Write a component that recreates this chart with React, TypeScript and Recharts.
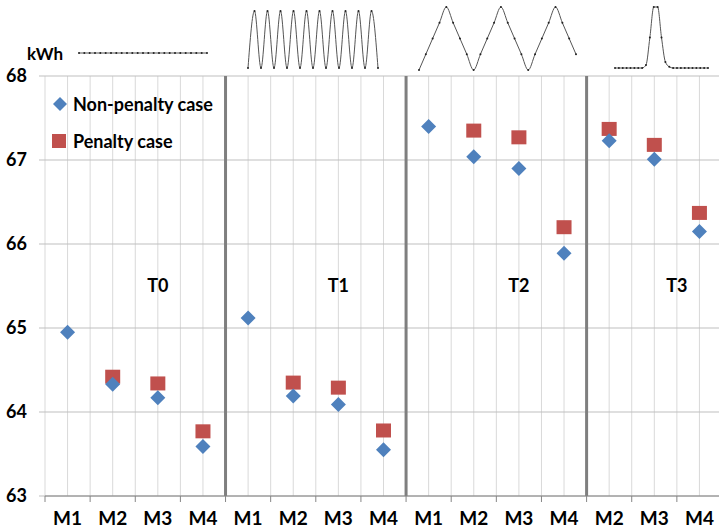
import {
  ScatterChart,
  Scatter,
  LineChart,
  Line,
  XAxis,
  YAxis,
  CartesianGrid,
  ReferenceLine,
  ReferenceDot,
} from 'recharts'

const categories = ['M1', 'M2', 'M3', 'M4', 'M1', 'M2', 'M3', 'M4', 'M1', 'M2', 'M3', 'M4', 'M2', 'M3', 'M4']
const nonPenalty = [64.95, 64.33, 64.17, 63.59, 65.12, 64.19, 64.09, 63.55, 67.4, 67.04, 66.9, 65.89, 67.23, 67.01, 66.15]
const penalty = [null, 64.42, 64.34, 63.77, null, 64.35, 64.29, 63.78, null, 67.35, 67.27, 66.2, 67.37, 67.18, 66.37]
const yTicks = [63, 64, 65, 66, 67, 68]

const sections = ['T0', 'T1', 'T2', 'T3']
const sectionLabelAt = [2.5, 6.5, 10.5, 14]
const separators = [4, 8, 12]

// small load-profile sketches above each block
const flatProfile = [1, 1, 1, 1, 1, 1, 1, 1, 1, 1, 1, 1, 1, 1, 1, 1, 1, 1, 1, 1, 1, 1, 1, 1, 1]
const sineProfile = [0, 1, 0, 1, 0, 1, 0, 1, 0, 1, 0, 1, 0, 1, 0, 1, 0, 1, 0, 1, 0]
const triangleProfile = [0, 0.25, 0.5, 0.75, 1, 0.75, 0.5, 0.25, 0, 0.25, 0.5, 0.75, 1, 0.75, 0.5, 0.25, 0, 0.25, 0.5, 0.75, 1, 0.75, 0.5, 0.25]
const peakProfile = [0, 0, 0, 0, 0, 0, 0, 0, 0.05, 0.5, 1, 1, 0.5, 0.1, 0.02, 0, 0, 0, 0, 0, 0, 0, 0, 0, 0]

const BLUE = '#4F81BD'
const RED = '#C0504D'

const nonPenaltyRows = nonPenalty.map((v, i) => ({ x: i + 0.5, y: v }))
const penaltyRows = penalty
  .map((v, i) => ({ x: i + 0.5, y: v }))
  .filter((r) => r.y !== null)

// ticks every half band: integers carry a tick mark, halves carry the label
const xTicks = categories
  .flatMap((_, i) => [i, i + 0.5])
  .concat([categories.length])

const Diamond = (props: any) => {
  const { cx, cy } = props
  const h = 7.5
  return <polygon points={`${cx},${cy - h} ${cx + h},${cy} ${cx},${cy + h} ${cx - h},${cy}`} fill={BLUE} />
}

const Square = (props: any) => {
  const { cx, cy } = props
  return <rect x={cx - 7.5} y={cy - 7} width={15} height={14} fill={RED} />
}

const XTick = (props: any) => {
  const { x, y, payload } = props
  const v = payload.value
  if (Number.isInteger(v)) {
    return <line x1={x} x2={x} y1={y} y2={y + 6} stroke="#868686" />
  }
  return (
    <text x={x} y={y + 16} dy="0.71em" textAnchor="middle" fill="#000" fontSize={19} fontWeight={700}>
      {categories[Math.floor(v)]}
    </text>
  )
}

function Profile({ values, left, top, width, height }: { values: number[]; left: number; top: number; width: number; height: number }) {
  const rows = values.map((v, i) => ({ i, v }))
  return (
    <div style={{ position: 'absolute', left: left - 2, top: top - 2 }}>
      <LineChart width={width + 4} height={height + 4} data={rows} margin={{ top: 2, right: 2, bottom: 2, left: 2 }}>
        <XAxis dataKey="i" type="number" domain={['dataMin', 'dataMax']} hide />
        <YAxis domain={[0, 1]} hide />
        <Line
          type="monotone"
          dataKey="v"
          stroke="#555"
          strokeWidth={1}
          dot={{ r: 1, fill: '#222', stroke: 'none' }}
          isAnimationActive={false}
        />
      </LineChart>
    </div>
  )
}

export default function App() {
  return (
    <div
      style={{
        position: 'absolute',
        left: 0,
        top: 0,
        width: 719,
        height: 529,
        overflow: 'hidden',
        background: '#fff',
        fontFamily: 'Lato, sans-serif',
      }}
    >
      <ScatterChart width={722} height={529} margin={{ top: 76, right: 0, bottom: 0, left: 0 }}>
        <CartesianGrid horizontal={false} stroke="#D9D9D9" />
        <CartesianGrid vertical={false} stroke="#BFBFBF" />
        <XAxis
          type="number"
          dataKey="x"
          domain={[0, 15]}
          ticks={xTicks}
          interval={0}
          tick={<XTick />}
          tickLine={false}
          tickSize={0}
          tickMargin={0}
          height={33}
          axisLine={{ stroke: '#868686' }}
        />
        <YAxis
          type="number"
          dataKey="y"
          domain={[63, 68]}
          ticks={yTicks}
          width={45}
          axisLine={false}
          tickLine={{ stroke: '#BFBFBF' }}
          tickSize={6}
          tickMargin={12}
          tick={{ fill: '#000', fontSize: 18, fontWeight: 700 }}
        />
        {separators.map((s) => (
          <ReferenceLine key={s} x={s} stroke="#7F7F7F" strokeWidth={3} />
        ))}
        {sections.map((t, i) => (
          <ReferenceDot
            key={t}
            x={sectionLabelAt[i]}
            y={65.5}
            r={0}
            fill="none"
            stroke="none"
            label={{ value: t, position: 'center', fill: '#000', fontSize: 18, fontWeight: 700 }}
          />
        ))}
        <Scatter name="Penalty case" data={penaltyRows} shape={Square} isAnimationActive={false} />
        <Scatter name="Non-penalty case" data={nonPenaltyRows} shape={Diamond} isAnimationActive={false} />
      </ScatterChart>

      {/* legend */}
      <div style={{ position: 'absolute', left: 52, top: 92, height: 24, display: 'flex', alignItems: 'center' }}>
        <svg width={16} height={16} style={{ marginRight: 5 }}>
          <polygon points="8,1 15,8 8,15 1,8" fill={BLUE} />
        </svg>
        <span style={{ fontSize: 18, fontWeight: 700, color: '#000' }}>Non-penalty case</span>
      </div>
      <div style={{ position: 'absolute', left: 51, top: 129, height: 24, display: 'flex', alignItems: 'center' }}>
        <svg width={16} height={16} style={{ marginRight: 6 }}>
          <rect x={1} y={1} width={14} height={14} fill={RED} />
        </svg>
        <span style={{ fontSize: 18, fontWeight: 700, color: '#000' }}>Penalty case</span>
      </div>

      <div style={{ position: 'absolute', left: 27, top: 44, fontSize: 17, fontWeight: 700, lineHeight: '20px', color: '#000' }}>kWh</div>
      <Profile values={flatProfile} left={79} top={53} width={128} height={2} />
      <Profile values={sineProfile} left={248} top={11} width={130} height={57} />
      <Profile values={triangleProfile} left={419} top={7} width={157} height={63} />
      <Profile values={peakProfile} left={615} top={7} width={93} height={61} />
    </div>
  )
}
